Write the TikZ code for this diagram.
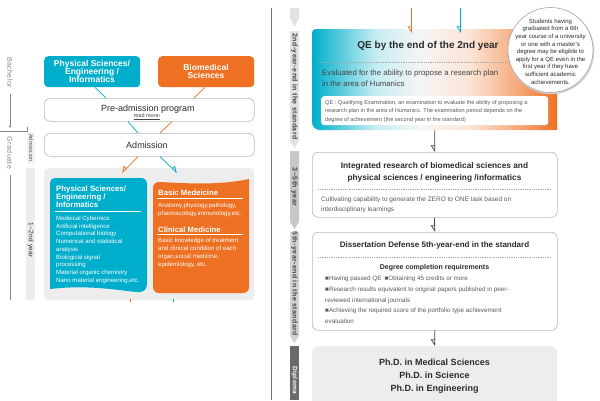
\documentclass[tikz,border=0pt]{standalone}
\usepackage{fontspec}
\setmainfont{Liberation Sans}
\newfontfamily\spfont[LetterSpace=6]{Liberation Sans}
\usetikzlibrary{arrows.meta,calc}
\definecolor{qcyan}{HTML}{00AECB}
\definecolor{qorange}{HTML}{EE7022}
\definecolor{tdark}{HTML}{2B2B2B}
\definecolor{tbody}{HTML}{454545}
\definecolor{tlight}{HTML}{5A5A5A}
\definecolor{bgray}{HTML}{B8B8B8}
\definecolor{panel}{HTML}{EDEDED}
\definecolor{tlA}{HTML}{E2E2E2}
\definecolor{tlB}{HTML}{C8C8C8}
\definecolor{tlC}{HTML}{D4D4D4}
\definecolor{tlD}{HTML}{6A6A6A}
\definecolor{sidegray}{HTML}{858585}
\newcommand\fsz[2]{\fontsize{#1}{#2}\selectfont}
\pgfdeclarehorizontalshading{qeshade}{100bp}{color(0bp)=(qcyan); color(25bp)=(qcyan); color(38bp)=(qcyan!22!white); color(47bp)=(black!4); color(57bp)=(qorange!18!white); color(67bp)=(qorange!60!white); color(75bp)=(qorange); color(100bp)=(qorange)}
\begin{document}
\begin{tikzpicture}[x=1pt,y=-1pt,
  wbox/.style={draw=bgray, line width=0.6pt, fill=white, rounded corners=6pt, inner sep=0pt, anchor=north west},
  cline/.style={draw=qcyan, line width=0.7pt},
  oline/.style={draw=qorange, line width=0.7pt},
  harpR/.style={-{Triangle[open,right,length=6pt,width=8pt]}},
  harpL/.style={-{Triangle[open,left,length=6pt,width=8pt]}},
  flowline/.style={draw=tbody, line width=0.7pt},
  dotrule/.style={draw=black!35, line width=0.5pt, dash pattern=on 0.8pt off 1pt},
  vlab/.style={rotate=-90, inner sep=0pt},
  sline/.style={draw=sidegray, line width=0.6pt},
]
\clip (0,0) rectangle (600,400);
\fill[white] (0,0) rectangle (600,400);

% ---------- left side timeline ----------
\node[vlab, font=\spfont\fsz{7}{8}, text=sidegray] (bach) at (10,72.5) {Bachelor};
\coordinate (bachend) at (10,128);
\draw[sline, -{Stealth[length=2.5pt,width=2.2pt]}] ($(bach.east)+(0,6)$) -- (bachend);
\draw[sline] (0,131) -- (27,131) -- (27,127);
\node[vlab, font=\spfont\fsz{7}{8}, text=sidegray] (grad) at (10,153) {Graduate};
\coordinate (gradend) at (10,300);
\draw[sline] ($(grad.east)+(0,6)$) -- (gradend);
\fill[black!5] (27,132) rectangle (35,164);
\node[vlab, font=\spfont\fsz{5.5}{6}, text=tbody] (admlab) at (31,148) {Admission};
\fill[panel] (26,168) rectangle (35,300);
\node[vlab, font=\spfont\fsz{6.5}{7}, text=tdark] (yrlab) at (30.5,240) {1\textasciitilde 2nd year};

% ---------- left boxes ----------
\node[fill=qcyan, rounded corners=4pt, minimum width=96pt, minimum height=31pt, inner sep=0, anchor=north west] (topcyan) at (44,56) {};
\node[fill=qorange, rounded corners=4pt, minimum width=96pt, minimum height=31pt, inner sep=0, anchor=north west] (toporange) at (158,56) {};
\node[align=center, anchor=north, inner sep=0, text=white, font=\fsz{8.5}{8}\bfseries] at (92,60.2) {Physical Sciences/\\Engineering /\\Informatics};
\node[align=center, anchor=north, inner sep=0, text=white, font=\fsz{8.5}{8}\bfseries] at (206,64.6) {Biomedical\\Sciences};

\node[wbox, minimum width=210pt, minimum height=23pt] (pre) at (44,98) {};
\node[anchor=base, font=\fsz{9}{10}, text=tdark] at (148,111) {Pre-admission program};
\node[anchor=base, inner sep=0, font=\fsz{5.5}{6}, text=tbody] at (147,117.8) {\underline{read more›}};

\node[wbox, minimum width=210pt, minimum height=23pt] (adm) at (44,133) {};
\node[anchor=base, font=\fsz{9}{10}, text=tdark] at (147,148.5) {Admission};

\node[fill=panel, rounded corners=4pt, minimum width=210pt, minimum height=132pt, inner sep=0, anchor=north west] (panelbox) at (44,168) {};

% inner cyan
\fill[qcyan] (50,289) -- (50,183) .. controls (50,180) and (52,178) .. (55,178) -- (141,178) .. controls (144.5,178) and (147,180.5) .. (147,184) -- (147,284) .. controls (147,290) and (143,293) .. (136,292) .. controls (110,289) and (85,285) .. (50,289) -- cycle;
\node[anchor=north west, align=left, inner sep=0, text=white, font=\fsz{7.8}{7.7}\bfseries] at (56,186.1) {Physical Sciences/\\Engineering /\\Informatics};
\draw[white, line width=0.6pt] (55,211) -- (141,211);
\node[anchor=north west, align=left, inner sep=0, text=white, font=\fsz{6.1}{7.68}] at (56,216) {Medeical Cybernics\\Artificial intelligence\\Computational biology\\Numerical and statistical\\analysis\\Biological signal\\processing\\Material organic chemistry\\Nano material engineering,etc.};

% inner orange
\fill[qorange] (153,188) .. controls (153,184.5) and (155.5,182) .. (159,182) .. controls (185,183) and (215,186) .. (249,179) -- (249,287) .. controls (249,290.5) and (246.5,293) .. (243,293) -- (159,293) .. controls (155.5,293) and (153,290.5) .. (153,287) -- cycle;
\node[anchor=base west, inner sep=0, text=white, font=\fsz{7.7}{8}\bfseries] at (158,195.5) {Basic Medeicine};
\draw[white, line width=0.6pt] (157,198) -- (243,198);
\node[anchor=north west, align=left, inner sep=0, text=white, font=\fsz{6.1}{7.7}] at (158,202.7) {Anatomy,physiogy,pathology,\\pharmacology,immunology,etc.};
\node[anchor=base west, inner sep=0, text=white, font=\fsz{7.7}{8}\bfseries] at (158,232.1) {Clinical Medicine};
\draw[white, line width=0.6pt] (157,234.3) -- (243,234.3);
\node[anchor=north west, align=left, inner sep=0, text=white, font=\fsz{6.1}{7.9}] at (158,237.7) {Basic knowledge of treatment\\and clinical condition of each\\organ,social medicine,\\epidemiology, etc.};

% left connectors
\draw[cline] ($(topcyan.south west)+(51,0)$) -- ($(pre.north west)+(62,0)$);
\draw[oline] ($(toporange.south west)+(47,0)$) -- ($(pre.north west)+(150,0)$);
\draw[cline] ($(pre.south west)+(84,0)$) -- ($(adm.north west)+(94,0)$);
\draw[oline] ($(pre.south west)+(128,0)$) -- ($(adm.north west)+(116,0)$);
\draw[oline, harpR] ($(adm.south west)+(94,0)$) -- ($(panelbox.north west)+(78,5)$);
\draw[cline, harpL] ($(adm.south west)+(116,0)$) -- ($(panelbox.north west)+(133,5)$);
\draw[oline] ($(panelbox.south west)+(86,-1.5)$) -- ++(0,3);
\draw[cline] ($(panelbox.south west)+(129,-1.5)$) -- ++(0,3);

% ---------- divider ----------
\draw[draw=black!55, line width=0.8pt] (271,8) -- (271,400);

% ---------- right timeline ----------
\fill[tlA] (290,8) -- (299,8) -- (299,18) -- (294.5,27) -- (290,18) -- cycle;
\fill[tlA] (290,31) -- (299,31) -- (299,141) -- (294.5,148) -- (290,141) -- cycle;
\fill[tlB] (290,151) -- (299,151) -- (299,222) -- (294.5,229) -- (290,222) -- cycle;
\fill[tlC] (290,232) -- (299,232) -- (299,336) -- (294.5,343) -- (290,336) -- cycle;
\fill[tlD] (290,346) rectangle (299,400);
\node[vlab, font=\spfont\bfseries\fsz{7}{8}, text=tbody] (tl1) at (294.5,86.5) {2nd-year-end in the standard};
\node[vlab, font=\spfont\bfseries\fsz{7}{8}, text=tbody] (tl2) at (294.5,187) {3\textasciitilde 5th year};
\node[vlab, font=\spfont\bfseries\fsz{7}{8}, text=tbody] (tl3) at (294.5,284) {5th-year-end in the standard};
\node[vlab, anchor=west, font=\spfont\bfseries\fsz{6.5}{7}, text=white] (tl4) at (294.5,366) {Diploma};

% ---------- QE box ----------
\node[minimum width=245pt, minimum height=101pt, inner sep=0, anchor=north west] (qe) at (312,29) {};
\shade[shading=qeshade] (312,33) .. controls (312,30.5) and (313.5,29) .. (316,29) -- (557,29) -- (557,130) -- (320,130) .. controls (315.5,130) and (312,126.5) .. (312,122) -- cycle;
\node[anchor=base, font=\fsz{10}{12}\bfseries, text=tdark] at (428,48.6) {QE by the end of the 2nd year};
\draw[dotrule] (318,62) -- (550,62);
\node[anchor=north west, align=left, inner sep=0, font=\fsz{7.8}{11}, text=tbody] at (322,70.1) {Evaluated for the ability to propose a research plan\\in the area of Humanics};
\node[fill=white, rounded corners=3pt, inner sep=0, minimum width=227pt, minimum height=29pt, anchor=north west] (qedef) at (321,96) {};
\node[anchor=north west, align=left, inner sep=0, font=\fsz{5.6}{8.5}, text=tlight] at (325,99.9) {QE : Qualifying Examination, an examination to evaluate the ability of proposing a\\research plan in the area of Humanics. The examination period depends on the\\degree of achievement (the second year in the standard)};

% note circle
\fill[black!18] (551.3,51.2) circle (43pt);
\node[circle, draw=black!35, line width=0.6pt, fill=white, minimum size=85pt, inner sep=0] (note) at (550.5,50) {};
\node[anchor=north, align=center, inner sep=0, font=\fsz{6}{7.6}, text=tdark] at (550.5,18.8) {Students having\\graduated from a 6th\\year course of a university\\or one with a master's\\degree may be eligible to\\apply for a QE even in the\\first year if they have\\sufficient academic\\achievements.};

% arrows into QE
\draw[oline, harpR] ($(qe.north west)+(99.5,-21)$) -- ($(qe.north west)+(99.5,4)$);
\draw[cline, harpR] ($(qe.north west)+(148.5,-21)$) -- ($(qe.north west)+(148.5,4)$);

% ---------- Integrated ----------
\node[wbox, minimum width=245pt, minimum height=65pt] (integ) at (312,152) {};
\node[anchor=north, align=center, inner sep=0, font=\fsz{8.3}{12}\bfseries, text=tdark] at (434.5,161.9) {Integrated research of biomedical sciences and\\physical sciences / engineering /informatics};
\draw[dotrule] (318,189) -- (551,189);
\node[anchor=north west, align=left, inner sep=0, font=\fsz{6.5}{10}, text=tlight] at (321,196.9) {Cultivating capability to generate the ZERO to ONE task based on\\interdisciplinary learnings};

% ---------- Dissertation ----------
\node[wbox, minimum width=245pt, minimum height=98pt] (diss) at (312,232) {};
\node[anchor=base, font=\fsz{8}{10}\bfseries, text=tdark] at (434.5,247.9) {Dissertation Defense 5th-year-end in the standard};
\draw[dotrule] (318,257) -- (551,257);
\node[anchor=base, font=\fsz{7}{9}\bfseries, text=tdark] at (434.5,269.5) {Degree completion requirements};
\node[anchor=north west, align=left, inner sep=0, font=\fsz{6.3}{10.7}, text=tlight] at (325,276) {■Having passed QE\enspace ■Obtaining 45 credits or more\\■Research results equivalent to original papers published in peer-\\reviewed international journals\\■Achieving the required score of the portfolio type achievement\\evaluation};

% ---------- Ph.D. ----------
\node[fill=panel, rounded corners=6pt, minimum width=245pt, minimum height=70pt, inner sep=0, anchor=north west] (phd) at (312,346) {};
\node[anchor=north, align=center, inner sep=0, font=\fsz{9}{13}\bfseries, text=tdark] at (434.5,358.4) {Ph.D. in Medical Sciences\\Ph.D. in Science\\Ph.D. in Engineering};

% flow arrows
\draw[flowline, harpR] (qe.south) -- (integ.north);
\draw[flowline, harpR] (integ.south) -- (diss.north);
\draw[flowline, harpR] (diss.south) -- (phd.north);
\end{tikzpicture}
\end{document}
